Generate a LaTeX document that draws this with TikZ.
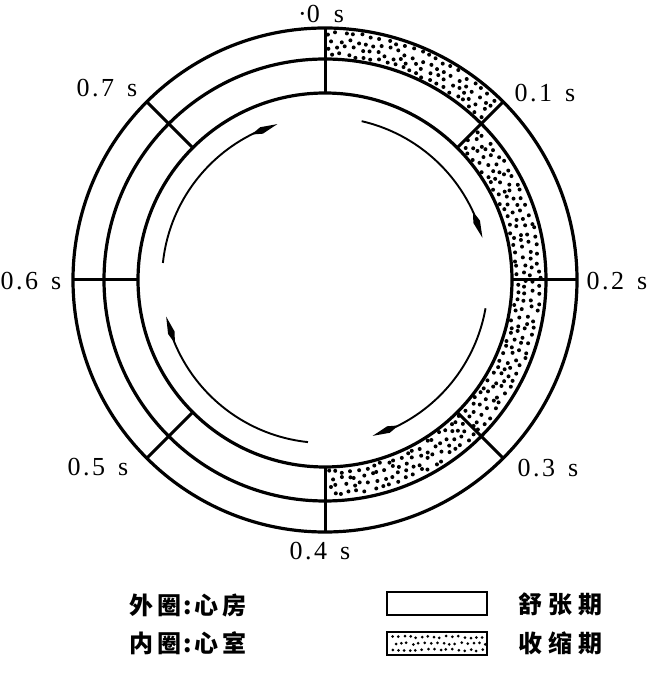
\documentclass[tikz,border=0pt]{standalone}
\usepackage{fontspec}
\setmainfont{Liberation Serif}
\newfontfamily\cjk{Noto Sans CJK SC}
\usetikzlibrary{arrows.meta,bending}
\newcommand\tmlbl[2]{#1\kern2.5pt.\kern2.5pt#2\kern13pt s}
\begin{document}
\begin{tikzpicture}[x=1pt,y=1pt,
  ring/.style={line width=3.2pt},
  tickline/.style={line width=3pt},
  flow/.style={line width=1.9pt, -{Kite[length=28pt,width=7pt,inset=11pt]}},
  tlabel/.style={font=\fontsize{26}{26}\selectfont, inner sep=0pt},
  cjklabel/.style={font=\cjk\bfseries\fontsize{24}{24}\selectfont, inner sep=0pt},
  legbox/.style={draw, line width=2.6pt}
]
\useasboundingbox (0,0) rectangle (649,693);
\coordinate (O) at (325,413);
\begin{scope}[shift={(O)}]
  \pgfmathsetseed{7}
  % stipple: atria systole (outer ring, 0 - 0.1 s)
  \foreach \k in {0,...,3}{
    \foreach \j in {0,...,21}{
      \pgfmathsetmacro\a{46.2+2*\j+mod(\k,2)*0.9+0.6*rand}
      \pgfmathsetmacro\r{225.5+7.2*\k+1.8*rand}
      \fill (\a:\r) circle (2.0);
    }
  }
  % stipple: ventricle systole (inner ring, 0.1 - 0.4 s)
  \foreach \k in {0,...,3}{
    \foreach \j in {0,...,60}{
      \pgfmathsetmacro\a{-88.8+2.2*\j+mod(\k,2)*1.1+0.7*rand}
      \pgfmathsetmacro\r{192+7.3*\k+1.9*rand}
      \fill (\a:\r) circle (2.0);
    }
  }
  % circles
  \draw[ring] (0,0) circle (252);
  \draw[ring] (0,0) circle (221);
  \draw[ring] (0,0) circle (187);
  % radial division lines
  \foreach \a in {0,45,...,315}{
    \coordinate (in\a) at (\a:187);
    \coordinate (out\a) at (\a:252);
    \draw[tickline] (in\a) -- (out\a);
  }
  % flow arrows
  \draw[flow] (174:163) arc[start angle=174, end angle=107, radius=163];
  \draw[flow] (77:163) arc[start angle=77, end angle=15, radius=163];
  \draw[flow] (-10:163) arc[start angle=-10, end angle=-73, radius=163];
  \draw[flow] (-96:163) arc[start angle=-96, end angle=-167, radius=163];
\end{scope}
% time labels
\node[tlabel] (t0) at (321,679) {·0\kern14pt s};
\node[tlabel] (t1) at (545,600) {\tmlbl{0}{1}};
\node[tlabel] (t2) at (617,412) {\tmlbl{0}{2}};
\node[tlabel] (t3) at (548,225) {\tmlbl{0}{3}};
\node[tlabel] (t4) at (320,142) {\tmlbl{0}{4}};
\node[tlabel] (t5) at (98,226) {\tmlbl{0}{5}};
\node[tlabel] (t6) at (31,412) {\tmlbl{0}{6}};
\node[tlabel] (t7) at (107,605) {\tmlbl{0}{7}};
% legend
\node[cjklabel] (l1) at (188,87) {外\kern4pt圈\kern2pt:\kern2pt心\kern4pt房};
\node[cjklabel] (l2) at (188,50) {内\kern4pt圈\kern2pt:\kern2pt心\kern4pt室};
\node[legbox, minimum width=100pt, minimum height=23pt, inner sep=0pt] (b1) at (437,89.5) {};
\begin{scope}
  \pgfmathsetseed{11}
  \foreach \k in {0,...,2}{
    \foreach \j in {0,...,15}{
      \pgfmathsetmacro\xx{392+6*\j+mod(\k,2)*3+1.2*rand}
      \pgfmathsetmacro\yy{43+6.5*\k+1.2*rand}
      \fill (\xx,\yy) circle (1.5);
    }
  }
\end{scope}
\node[legbox, minimum width=100pt, minimum height=23pt, inner sep=0pt] (b2) at (437,49.5) {};
\node[cjklabel] (d1) at (560,89) {舒\kern6pt张\kern6pt期};
\node[cjklabel] (d2) at (560,50) {收\kern6pt缩\kern6pt期};
\end{tikzpicture}
\end{document}
